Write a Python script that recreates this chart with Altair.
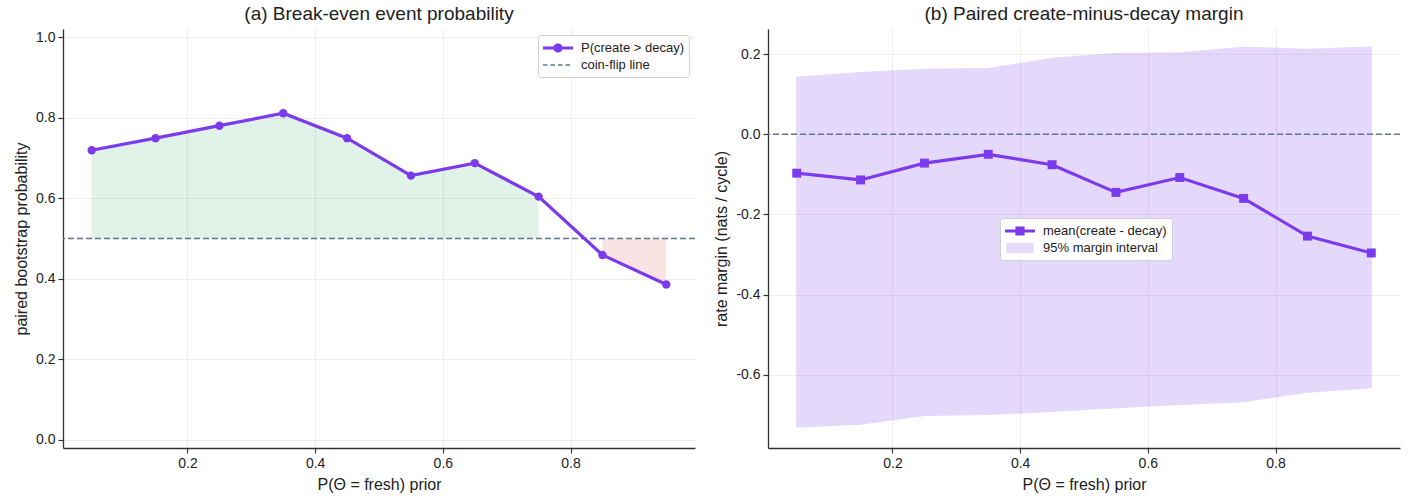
import altair as alt
import pandas as pd

# ---------------- data ----------------
prior = [0.05, 0.15, 0.25, 0.35, 0.45, 0.55, 0.65, 0.75, 0.85, 0.95]
p_create_gt_decay = [0.719, 0.749, 0.780, 0.811, 0.749, 0.656, 0.687, 0.604, 0.459, 0.386]
margin_mean = [-0.097, -0.114, -0.072, -0.050, -0.076, -0.145, -0.108, -0.160, -0.254, -0.296]
margin_hi = [0.142, 0.154, 0.162, 0.164, 0.189, 0.201, 0.203, 0.217, 0.212, 0.217]
margin_lo = [-0.730, -0.723, -0.701, -0.699, -0.691, -0.682, -0.674, -0.667, -0.643, -0.632]
coin_flip = [0.5]
zero_line = [0.0]

x_ticks = [0.2, 0.4, 0.6, 0.8]
left_y_ticks = [0.0, 0.2, 0.4, 0.6, 0.8, 1.0]
right_y_ticks = [-0.6, -0.4, -0.2, 0.0, 0.2]

series_a = ["P(create > decay)", "coin-flip line"]
series_b = ["mean(create - decay)", "95% margin interval"]

# ---------------- style ----------------
PURPLE = "#7c3aed"
SLATE = "#64748b"
GREEN = "#16a34a"
RED = "#dc2626"
FONT = "Liberation Sans"
W, H = 632, 419

# legend glyphs: symbol size 256 -> 1 path unit = 8 px; glyph 30 px wide, starting at the symbol box
U = 8.0
L0, L1 = -1.0, -1.0 + 30 / U
CX = (L0 + L1) / 2


def rect(x0, x1, y0, y1):
    return f"M{x0:.3f},{y0:.3f}H{x1:.3f}V{y1:.3f}H{x0:.3f}Z "


def line_with_circle():
    r = 4.6 / U
    t = 1.6 / U
    return (rect(L0, CX - r + 0.05, -t, t) + rect(CX + r - 0.05, L1, -t, t) +
            f"M{CX - r:.3f},0A{r:.3f},{r:.3f},0,1,1,{CX + r:.3f},0A{r:.3f},{r:.3f},0,1,1,{CX - r:.3f},0Z")


def dashed_line():
    t = 0.8 / U
    out, x = "", L0
    while x < L1:
        out += rect(x, min(x + 4.5 / U, L1), -t, t)
        x += 7.5 / U
    return out


def line_with_square():
    h = 4.6 / U
    t = 1.6 / U
    return rect(L0, CX - h, -t, t) + rect(CX + h, L1, -t, t) + rect(CX - h, CX + h, -h, h)


def band_rect():
    return rect(L0 + 1.5 / U, L1 - 1.5 / U, -5 / U, 5 / U)


df_a = pd.DataFrame({"prior": prior, "p": p_create_gt_decay, "series": series_a[0]})
df_a["base"] = coin_flip[0]
df_green = df_a[df_a["p"] >= 0.5]
df_red = df_a[df_a["p"] < 0.5]
df_rule_a = pd.DataFrame({"y": coin_flip, "series": [series_a[1]]})

df_b = pd.DataFrame({"prior": prior, "mean": margin_mean, "lo": margin_lo, "hi": margin_hi})
df_b_line = df_b.assign(series=series_b[0])
df_b_band = df_b.assign(series=series_b[1])
df_rule_b = pd.DataFrame({"y": zero_line})

xscale = alt.Scale(domain=[0.005, 0.995], nice=False, zero=False)
x_axis = alt.Axis(values=x_ticks, format=".1f", title="P(Θ = fresh) prior")


def X():
    return alt.X("prior:Q", scale=xscale, axis=x_axis)


def legend(**kw):
    return alt.Legend(
        title=None, symbolSize=256, symbolStrokeWidth=0,
        labelFont=FONT, labelFontSize=13, labelColor="#222", labelOffset=8 + 30 - 16,
        padding=5, rowPadding=2, strokeColor="#d0d0d0", fillColor="#ffffff",
        cornerRadius=3, **kw)


# ---------------- panel (a) ----------------
yscale_a = alt.Scale(domain=[-0.02, 1.02], nice=False, zero=False)
y_axis_a = alt.Axis(values=left_y_ticks, format=".1f", title="paired bootstrap probability")

leg_a = legend(orient="top-right", offset=6)
color_a = alt.Color("series:N", scale=alt.Scale(domain=series_a, range=[PURPLE, SLATE]), legend=leg_a)
shape_a = alt.Shape("series:N", scale=alt.Scale(domain=series_a, range=[line_with_circle(), dashed_line()]),
                    legend=leg_a)

legend_keys_a = alt.Chart(df_a).mark_point(filled=True, opacity=1).encode(
    x=X(), y=alt.Y("p:Q", scale=yscale_a, axis=y_axis_a), color=color_a, shape=shape_a
).transform_filter("false")
green_area = alt.Chart(df_green).mark_area(color=GREEN, opacity=0.13).encode(
    x=X(), y=alt.Y("p:Q", scale=yscale_a, axis=y_axis_a), y2="base:Q")
red_area = alt.Chart(df_red).mark_area(color=RED, opacity=0.13).encode(
    x=X(), y=alt.Y("p:Q", scale=yscale_a, axis=y_axis_a), y2="base:Q")
rule_a = alt.Chart(df_rule_a).mark_rule(strokeDash=[6, 3], strokeWidth=1.6).encode(
    y=alt.Y("y:Q", scale=yscale_a, axis=y_axis_a), color=color_a)
line_a = alt.Chart(df_a).mark_line(strokeWidth=3.2).encode(
    x=X(), y=alt.Y("p:Q", scale=yscale_a, axis=y_axis_a), color=color_a)
pts_a = alt.Chart(df_a).mark_circle(size=70, opacity=1, color=PURPLE).encode(
    x=X(), y=alt.Y("p:Q", scale=yscale_a, axis=y_axis_a))

panel_a = alt.layer(legend_keys_a, green_area, red_area, rule_a, line_a, pts_a).properties(
    width=W, height=H,
    title=alt.TitleParams("(a) Break-even event probability", fontSize=19, font=FONT,
                          fontWeight="normal", color="#222", offset=5, anchor="middle"),
)

# ---------------- panel (b) ----------------
yscale_b = alt.Scale(domain=[-0.7825, 0.2625], nice=False, zero=False)
y_axis_b = alt.Axis(values=right_y_ticks, title="rate margin (nats / cycle)",
                    labelExpr="datum.value < 0 ? '-' + format(-datum.value, '.1f') : format(datum.value, '.1f')")

leg_b = legend(orient="none", legendX=232, legendY=189)
color_b = alt.Color("series:N", scale=alt.Scale(domain=series_b, range=[PURPLE, PURPLE]), legend=leg_b)
shape_b = alt.Shape("series:N", scale=alt.Scale(domain=series_b, range=[line_with_square(), band_rect()]),
                    legend=leg_b)
opac_b = alt.Opacity("series:N", scale=alt.Scale(domain=series_b, range=[1.0, 0.19]), legend=leg_b)

legend_keys_b = alt.Chart(df_b_line).mark_point(filled=True).encode(
    x=X(), y=alt.Y("mean:Q", scale=yscale_b, axis=y_axis_b),
    color=color_b, shape=shape_b, opacity=opac_b
).transform_filter("false")
band_b = alt.Chart(df_b_band).mark_area(strokeWidth=1.2).encode(
    x=X(), y=alt.Y("lo:Q", scale=yscale_b, axis=y_axis_b), y2="hi:Q",
    color=color_b, opacity=opac_b, stroke=alt.value(PURPLE))
rule_b = alt.Chart(df_rule_b).mark_rule(strokeDash=[6, 3], strokeWidth=1.6, color=SLATE).encode(
    y=alt.Y("y:Q", scale=yscale_b, axis=y_axis_b))
line_b = alt.Chart(df_b_line).mark_line(strokeWidth=3.2).encode(
    x=X(), y=alt.Y("mean:Q", scale=yscale_b, axis=y_axis_b), color=color_b, opacity=opac_b)
pts_b = alt.Chart(df_b_line).mark_square(size=80, opacity=1, color=PURPLE).encode(
    x=X(), y=alt.Y("mean:Q", scale=yscale_b, axis=y_axis_b))

panel_b = alt.layer(legend_keys_b, band_b, rule_b, line_b, pts_b).properties(
    width=W, height=H,
    title=alt.TitleParams("(b) Paired create-minus-decay margin", fontSize=19, font=FONT,
                          fontWeight="normal", color="#222", offset=5, anchor="middle"),
)

chart = alt.hconcat(panel_a, panel_b, spacing=17).resolve_scale(
    color="independent", shape="independent", opacity="independent"
).resolve_legend(
    color="independent", shape="independent", opacity="independent"
).properties(
    background="white",
    padding={"left": 13, "top": 5, "right": 5, "bottom": 3},
).configure_view(
    stroke=None
).configure_axis(
    labelFont=FONT, labelFontSize=14, labelColor="#222",
    titleFont=FONT, titleFontSize=16, titleFontWeight="normal", titleColor="#222",
    domainColor="#333", domainWidth=1.3, tickColor="#333", tickWidth=1.2, tickSize=5,
    labelPadding=3, gridColor="#ebebeb", gridWidth=0.9, titlePadding=6,
)

chart.save("out.html", embed_options={"renderer": "svg", "actions": False})
